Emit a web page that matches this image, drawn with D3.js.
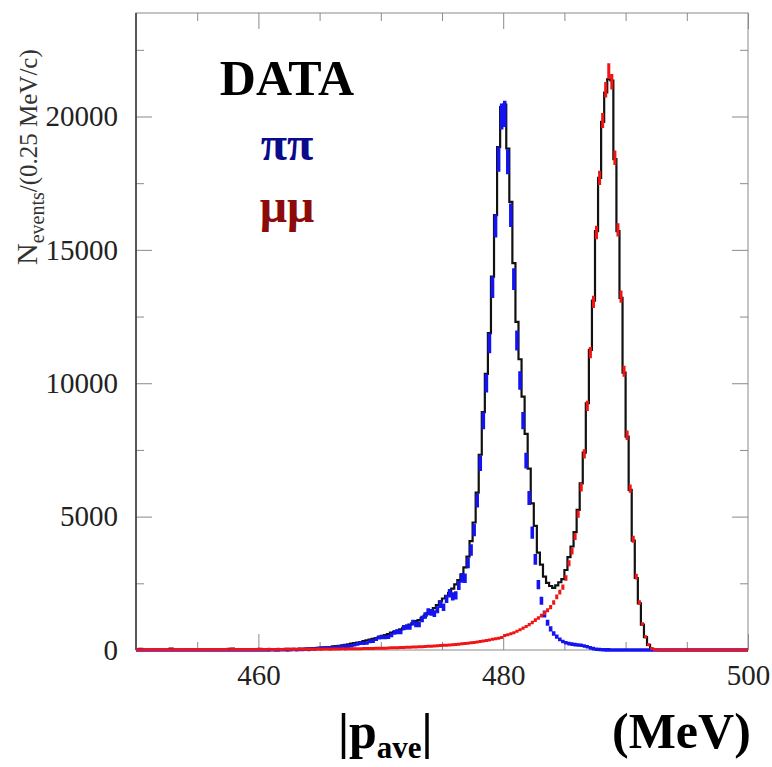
<!DOCTYPE html>
<html>
<head>
<meta charset="utf-8">
<script src="https://cdn.jsdelivr.net/npm/d3@7"></script>
<style>
  html, body { margin: 0; padding: 0; background: #fff; }
  svg text { font-family: "Liberation Serif", "DejaVu Serif", serif; }
</style>
</head>
<body>
<svg id="chart" width="772" height="767"></svg>
<script>
// Histogram binning: 200 bins of 0.25 MeV from 450 to 500 MeV
const binStart = 450;
const binWidth = 0.25;

// Measured events per bin
const dataCounts = [
  0,40,0,0,0,0,0,0,0,0,
  0,50,0,0,0,0,0,0,0,0,
  0,0,0,0,0,0,0,0,0,0,
  45,50,0,0,0,0,0,0,0,0,
  40,0,0,30,0,0,30,0,0,40,
  30,40,30,45,40,50,60,60,70,80,
  90,95,110,110,140,150,160,175,190,210,
  240,255,280,300,330,360,390,420,450,490,
  530,560,600,650,680,730,770,830,880,950,
  1010,1080,1120,1200,1290,1390,1460,1570,1680,1820,
  1930,2030,2140,2300,2460,2620,2830,3100,3500,4080,
  4780,5900,7320,8920,10350,11880,14000,16300,18850,20350,
  20450,18800,16800,14500,12300,10900,9500,8100,6800,5500,
  4650,3650,3200,2750,2520,2400,2330,2420,2540,2660,
  3000,3480,3880,4420,5250,6250,7400,9250,11250,13100,
  15700,17700,19800,20900,21400,21350,18400,15700,13200,10400,
  8000,6000,4100,2700,1750,950,480,190,50,10,
  0,0,0,0,0,0,0,0,0,0,
  0,0,0,0,0,0,0,0,0,0,
  0,0,0,0,0,0,0,0,0,0
];

// Simulated pi+pi- component
const pipiCounts = [
  0,0,0,0,0,0,0,0,0,0,
  0,0,0,0,0,0,0,0,0,0,
  0,0,0,0,0,0,0,0,0,0,
  0,0,0,0,0,5,0,0,0,5,
  0,5,5,0,10,5,0,10,10,5,
  10,20,10,25,20,30,25,45,35,55,
  62,63,78,82,85,98,118,138,144,147,
  161,195,228,256,255,265,324,331,407,465,
  478,480,487,557,663,683,677,839,863,863,
  1026,960,963,1163,1295,1432,1411,1363,1509,1722,
  1601,1914,2126,2008,2046,2421,2703,2688,3264,3750,
  4500,5600,7000,8600,10000,11500,13600,15900,18400,20000,
  20100,18300,16300,13900,11600,10100,8600,7100,5700,4400,
  3400,2450,1850,1350,1020,790,620,500,400,320,
  270,240,220,200,190,180,150,120,80,50,
  30,20,10,5,5,0,0,0,0,0,
  0,0,0,0,0,0,0,0,0,0,
  0,0,0,0,0,0,0,0,0,0,
  0,0,0,0,0,0,0,0,0,0,
  0,0,0,0,0,0,0,0,0,0
];

// Simulated mu+mu- component
const mumuCounts = [
  10,5,10,10,5,10,15,10,5,10,
  10,10,15,10,10,5,10,15,10,10,
  15,10,10,15,10,10,15,10,20,15,
  10,15,20,15,15,20,15,20,15,20,
  20,15,20,25,20,20,25,20,25,25,
  25,20,25,30,25,30,30,25,30,35,
  30,35,35,30,40,35,40,45,40,45,
  45,50,45,50,55,55,60,60,65,65,
  70,70,75,80,85,85,90,95,100,105,
  110,115,120,125,130,140,145,150,160,165,
  175,180,190,200,210,220,230,245,255,270,
  285,300,320,335,355,375,400,420,445,470,
  540,570,610,650,700,760,820,880,950,1030,
  1120,1200,1290,1390,1490,1610,1780,1990,2170,2360,
  2700,3250,3700,4250,5100,6100,7350,9150,11150,13050,
  15650,17700,19850,21000,21700,21300,18450,15750,13250,10450,
  8050,6050,4150,2750,1780,980,500,200,60,15,
  5,0,0,0,0,0,0,0,0,0,
  0,0,0,0,0,0,0,0,0,0,
  0,0,0,0,0,0,0,0,0,0
];

// Axis ticks and labels
const xMajorTicks = [460, 480, 500];
const xMinorTicks = [455, 465, 470, 475, 485, 490, 495];
const yMajorTicks = [0, 5000, 10000, 15000, 20000];
const yMinorTicks = [2500, 7500, 12500, 17500, 22500];
const legendLabels = ["DATA", "\u03C0\u03C0", "\u03BC\u03BC"];
const legendColors = ["#000000", "#0a0a8c", "#8c0a0a"];

// Statistical weights of the simulated samples (error bar = sqrt(N * w))
const pipiWeight = 12;
const mumuWeight = 4;

const margin = { left: 136, right: 24, top: 13, bottom: 117 };
const W = 772, H = 767;
const plotW = W - margin.left - margin.right;
const plotH = H - margin.top - margin.bottom;

const svg = d3.select("#chart");

const x = d3.scaleLinear().domain([450, 500]).range([margin.left, margin.left + plotW]);
const y = d3.scaleLinear().domain([0, 23880]).range([margin.top + plotH, margin.top]);

svg.append("defs").append("clipPath").attr("id", "plotClip")
  .append("rect")
  .attr("x", margin.left).attr("y", margin.top)
  .attr("width", plotW).attr("height", plotH + 2.5);

// Frame
svg.append("rect")
  .attr("x", margin.left).attr("y", margin.top)
  .attr("width", plotW).attr("height", plotH)
  .attr("fill", "none").attr("stroke", "#8a8a8a").attr("stroke-width", 1);

function styleAxis(g, color) {
  g.select(".domain").remove();
  g.selectAll(".tick line").attr("stroke", color).attr("stroke-width", 1);
}

// Minor ticks (all four sides, pointing inward)
svg.append("g").attr("transform", `translate(${margin.left},0)`)
  .call(d3.axisLeft(y).tickValues(yMinorTicks).tickSize(-8).tickFormat(""))
  .call(g => styleAxis(g, "#8a8a8a"));
svg.append("g").attr("transform", `translate(${margin.left + plotW},0)`)
  .call(d3.axisRight(y).tickValues(yMinorTicks).tickSize(-8).tickFormat(""))
  .call(g => styleAxis(g, "#8a8a8a"));
svg.append("g").attr("transform", `translate(0,${margin.top + plotH})`)
  .call(d3.axisBottom(x).tickValues(xMinorTicks).tickSize(-8).tickFormat(""))
  .call(g => styleAxis(g, "#8a8a8a"));
svg.append("g").attr("transform", `translate(0,${margin.top})`)
  .call(d3.axisTop(x).tickValues(xMinorTicks).tickSize(-8).tickFormat(""))
  .call(g => styleAxis(g, "#8a8a8a"));

// Major ticks with labels
const yAxis = svg.append("g").attr("transform", `translate(${margin.left},0)`)
  .call(d3.axisLeft(y).tickValues(yMajorTicks).tickSize(-16).tickPadding(18).tickFormat(d3.format("d")));
styleAxis(yAxis, "#8a8a8a");
yAxis.selectAll("text").attr("font-size", 29).attr("fill", "#222")
  .style("font-family", "'Liberation Serif', serif");

svg.append("g").attr("transform", `translate(${margin.left + plotW},0)`)
  .call(d3.axisRight(y).tickValues(yMajorTicks).tickSize(-16).tickFormat(""))
  .call(g => styleAxis(g, "#8a8a8a"));

const xAxis = svg.append("g").attr("transform", `translate(0,${margin.top + plotH})`)
  .call(d3.axisBottom(x).tickValues(xMajorTicks).tickSize(-16).tickPadding(14).tickFormat(d3.format("d")));
styleAxis(xAxis, "#8a8a8a");
xAxis.selectAll("text").attr("font-size", 29).attr("fill", "#222")
  .style("font-family", "'Liberation Serif', serif");

svg.append("g").attr("transform", `translate(0,${margin.top})`)
  .call(d3.axisTop(x).tickValues(xMajorTicks).tickSize(-16).tickFormat(""))
  .call(g => styleAxis(g, "#8a8a8a"));

// Darker left axis line
svg.append("line")
  .attr("x1", margin.left).attr("x2", margin.left)
  .attr("y1", margin.top).attr("y2", margin.top + plotH)
  .attr("stroke", "#333").attr("stroke-width", 1.5);

const plot = svg.append("g").attr("clip-path", "url(#plotClip)");

// Data histogram drawn as steps
const stepPoints = dataCounts.map((c, i) => [binStart + i * binWidth, c]);
stepPoints.push([binStart + dataCounts.length * binWidth, dataCounts[dataCounts.length - 1]]);
const stepLine = d3.line().x(d => x(d[0])).y(d => y(d[1])).curve(d3.curveStepAfter);
plot.append("path")
  .attr("d", stepLine(stepPoints))
  .attr("fill", "none").attr("stroke", "#111").attr("stroke-width", 2.2);

// Simulated components: bin-width bar plus vertical error bar per bin
function errorHistPath(counts, weight) {
  const p = d3.path();
  counts.forEach((c, i) => {
    const lo = binStart + i * binWidth;
    const hi = lo + binWidth;
    const mid = lo + binWidth / 2;
    const e = Math.sqrt(Math.max(c, 0) * weight);
    p.moveTo(x(lo), y(c));
    p.lineTo(x(hi), y(c));
    if (e > 0) {
      p.moveTo(x(mid), y(c + e));
      p.lineTo(x(mid), y(c - e));
    }
  });
  return p.toString();
}

plot.append("path")
  .attr("d", errorHistPath(pipiCounts, pipiWeight))
  .attr("fill", "none").attr("stroke", "#1414f0").attr("stroke-width", 3.6);

plot.append("path")
  .attr("d", errorHistPath(mumuCounts, mumuWeight))
  .attr("fill", "none").attr("stroke", "#f01414").attr("stroke-width", 3);

// Legend text
const legendY = [95, 160, 222];
legendLabels.forEach((t, i) => {
  svg.append("text")
    .attr("x", 287).attr("y", legendY[i])
    .attr("text-anchor", "middle")
    .attr("font-size", i === 0 ? 50 : 48)
    .attr("font-weight", "bold")
    .attr("fill", legendColors[i])
    .text(t);
});

// Y axis title
const yTitle = svg.append("text")
  .attr("transform", "translate(37,265) rotate(-90)")
  .attr("fill", "#333");
yTitle.append("tspan").attr("font-size", 30).text("N");
yTitle.append("tspan").attr("font-size", 20).attr("dy", 7).text("events");
yTitle.append("tspan").attr("font-size", 25).attr("dy", -7).text("/(0.25 MeV/c)");

// X axis title
const xTitle = svg.append("text")
  .attr("x", 338).attr("y", 748)
  .attr("font-weight", "bold").attr("fill", "#000");
xTitle.append("tspan").attr("font-size", 50).text("|p");
xTitle.append("tspan").attr("font-size", 31).attr("dy", 10).text("ave");
xTitle.append("tspan").attr("font-size", 50).attr("dy", -10).text("|");

svg.append("text")
  .attr("x", 612).attr("y", 748)
  .attr("font-weight", "bold").attr("font-size", 50).attr("fill", "#000")
  .text("(MeV)");
</script>
</body>
</html>
